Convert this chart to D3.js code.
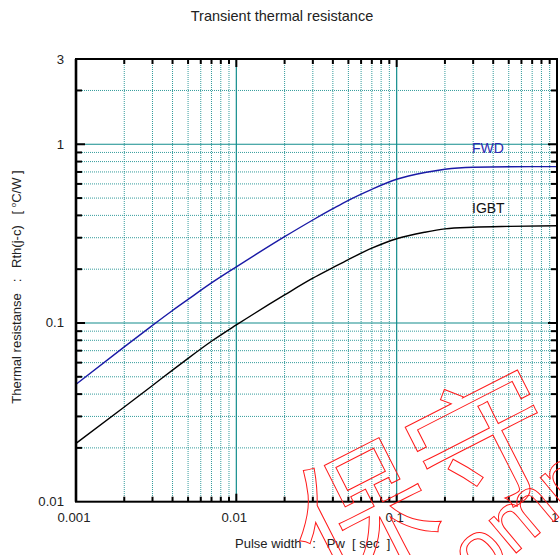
<!DOCTYPE html>
<html><head><meta charset="utf-8">
<script src="https://cdn.jsdelivr.net/npm/d3@7"></script>
<style>body{margin:0;background:#fff}svg{display:block}text{font-family:"Liberation Sans",Arial,sans-serif}</style>
</head><body><svg id="c" width="560" height="555"></svg>
<script>
const pulseWidth = [0.001, 0.002, 0.003, 0.004, 0.005, 0.007, 0.01, 0.02, 0.03, 0.04, 0.05, 0.07, 0.1, 0.15, 0.2, 0.3, 0.5, 1];
const fwd  = [0.0454, 0.0735, 0.0970, 0.1175, 0.1355, 0.1675, 0.206, 0.304, 0.377, 0.436, 0.486, 0.560, 0.637, 0.695, 0.725, 0.744, 0.749, 0.750];
const igbt = [0.0212, 0.0339, 0.0447, 0.0545, 0.0634, 0.0790, 0.0975, 0.1435, 0.178, 0.204, 0.2265, 0.262, 0.296, 0.322, 0.336, 0.343, 0.347, 0.350];
const xTickLabels = ["0.001", "0.01", "0.1", "1"];
const yTickLabels = ["0.01", "0.1", "1", "3"];
const xMajor = [0.001, 0.01, 0.1, 1];
const yMajor = [0.01, 0.1, 1, 3];

const svg = d3.select("#c");
const L = 76, R = 557, T = 59, B = 501.7;
const x = d3.scaleLog().domain([0.001, 1]).range([L, R]);
const y = d3.scaleLog().domain([0.01, 3]).range([B, T]);

function minors(lo, hi) {
  const out = [];
  for (let d = lo; d < hi * 0.999; d *= 10) for (let k = 2; k <= 9; k++) { const v = d * k; if (v < hi * 0.999) out.push(v); }
  return out;
}
const xMin = minors(0.001, 1);
const yMin = minors(0.01, 3);
const teal = "#128c8c";

const g = svg.append("g");
g.selectAll(".vm").data(xMin).join("line")
  .attr("x1", d => x(d)).attr("x2", d => x(d)).attr("y1", T).attr("y2", B)
  .attr("stroke", teal).attr("stroke-width", 1).attr("stroke-dasharray", "1,1").attr("opacity", 0.85);
g.selectAll(".hm").data(yMin).join("line")
  .attr("y1", d => y(d)).attr("y2", d => y(d)).attr("x1", L).attr("x2", R)
  .attr("stroke", teal).attr("stroke-width", 1).attr("stroke-dasharray", "1,1").attr("opacity", 0.85);
g.selectAll(".vM").data([0.01, 0.1]).join("line")
  .attr("x1", d => x(d)).attr("x2", d => x(d)).attr("y1", T).attr("y2", B)
  .attr("stroke", teal).attr("stroke-width", 1.2);
g.selectAll(".hM").data([0.1, 1]).join("line")
  .attr("y1", d => y(d)).attr("y2", d => y(d)).attr("x1", L).attr("x2", R)
  .attr("stroke", teal).attr("stroke-width", 1.2);

// curves
const line = d3.line().x((d, i) => x(pulseWidth[i])).y(d => y(d)).curve(d3.curveMonotoneX);
svg.append("path").attr("d", line(fwd)).attr("fill", "none").attr("stroke", "#1a1aa6").attr("stroke-width", 1.4);
svg.append("path").attr("d", line(igbt)).attr("fill", "none").attr("stroke", "#000").attr("stroke-width", 1.4);

// frame
svg.append("rect").attr("x", L).attr("y", T).attr("width", R - L).attr("height", B - T)
  .attr("fill", "none").attr("stroke", "#000").attr("stroke-width", 2);
svg.append("line").attr("x1", L).attr("x2", L).attr("y1", T).attr("y2", B).attr("stroke", "#000").attr("stroke-width", 2.6);

// ticks (inside)
const tk = svg.append("g").attr("stroke", "#000").attr("stroke-width", 2);
const xt = xMin.concat([0.01, 0.1]);
tk.selectAll(".bt").data(xt).join("line").attr("x1", d => x(d)).attr("x2", d => x(d)).attr("y1", B).attr("y2", d => B - (xMajor.includes(d) ? 8 : 5));
tk.selectAll(".tt").data(xt).join("line").attr("x1", d => x(d)).attr("x2", d => x(d)).attr("y1", T).attr("y2", d => T + (xMajor.includes(d) ? 8 : 5));
const yt = yMin.concat([0.1, 1]);
tk.selectAll(".lt").data(yt).join("line").attr("y1", d => y(d)).attr("y2", d => y(d)).attr("x1", L).attr("x2", d => L + ([0.1, 1].includes(d) ? 9 : 6));
tk.selectAll(".rt").data(yt).join("line").attr("y1", d => y(d)).attr("y2", d => y(d)).attr("x1", R).attr("x2", d => R - ([0.1, 1].includes(d) ? 9 : 6));

// tick labels
svg.selectAll(".xl").data(xMajor).join("text")
  .attr("x", d => x(d) - 2).attr("y", 522).attr("text-anchor", "middle")
  .attr("font-size", 13.2).attr("fill", "#222").text((d, i) => xTickLabels[i]);
svg.selectAll(".yl").data(yMajor).join("text")
  .attr("x", 64).attr("y", d => y(d) + 4.5).attr("text-anchor", "end")
  .attr("font-size", 13.2).attr("fill", "#222").text((d, i) => yTickLabels[i]);

// title & axis labels
svg.append("text").attr("x", 282).attr("y", 21).attr("text-anchor", "middle").attr("font-size", 14.5).attr("fill", "#222").text("Transient thermal resistance");
svg.append("text").attr("x", 235).attr("y", 548).attr("text-anchor", "start").attr("font-size", 13).attr("fill", "#222")
  .attr("xml:space", "preserve").text("Pulse width   :   Pw  [ sec  ]");
const yl = svg.append("text").attr("transform", "translate(21,287) rotate(-90)").attr("text-anchor", "middle")
  .attr("font-size", 13).attr("fill", "#222").attr("xml:space", "preserve");
yl.append("tspan").text("Thermal resistanse   :   Rth(j-c)   [ ");
yl.append("tspan").attr("font-size", 8).attr("dy", -5).text("o");
yl.append("tspan").attr("dy", 5).text("C/W ]");

// series labels
svg.append("text").attr("x", 472).attr("y", 153).attr("font-size", 14).attr("fill", "#2a2ab0").text("FWD");
svg.append("text").attr("x", 472).attr("y", 213).attr("font-size", 14).attr("fill", "#111").text("IGBT");

// watermark
const wm = svg.append("g").attr("fill", "none").attr("stroke", "#ff1a1a").attr("stroke-width", 1);
wm.append("text").attr("transform", "translate(322,585) rotate(-27)").attr("font-size", 140)
  .attr("font-family", "Noto Sans CJK JP").text("保守");
wm.append("text").attr("transform", "translate(478,585) rotate(-40)").attr("font-size", 80).text("omm");
</script></body></html>
